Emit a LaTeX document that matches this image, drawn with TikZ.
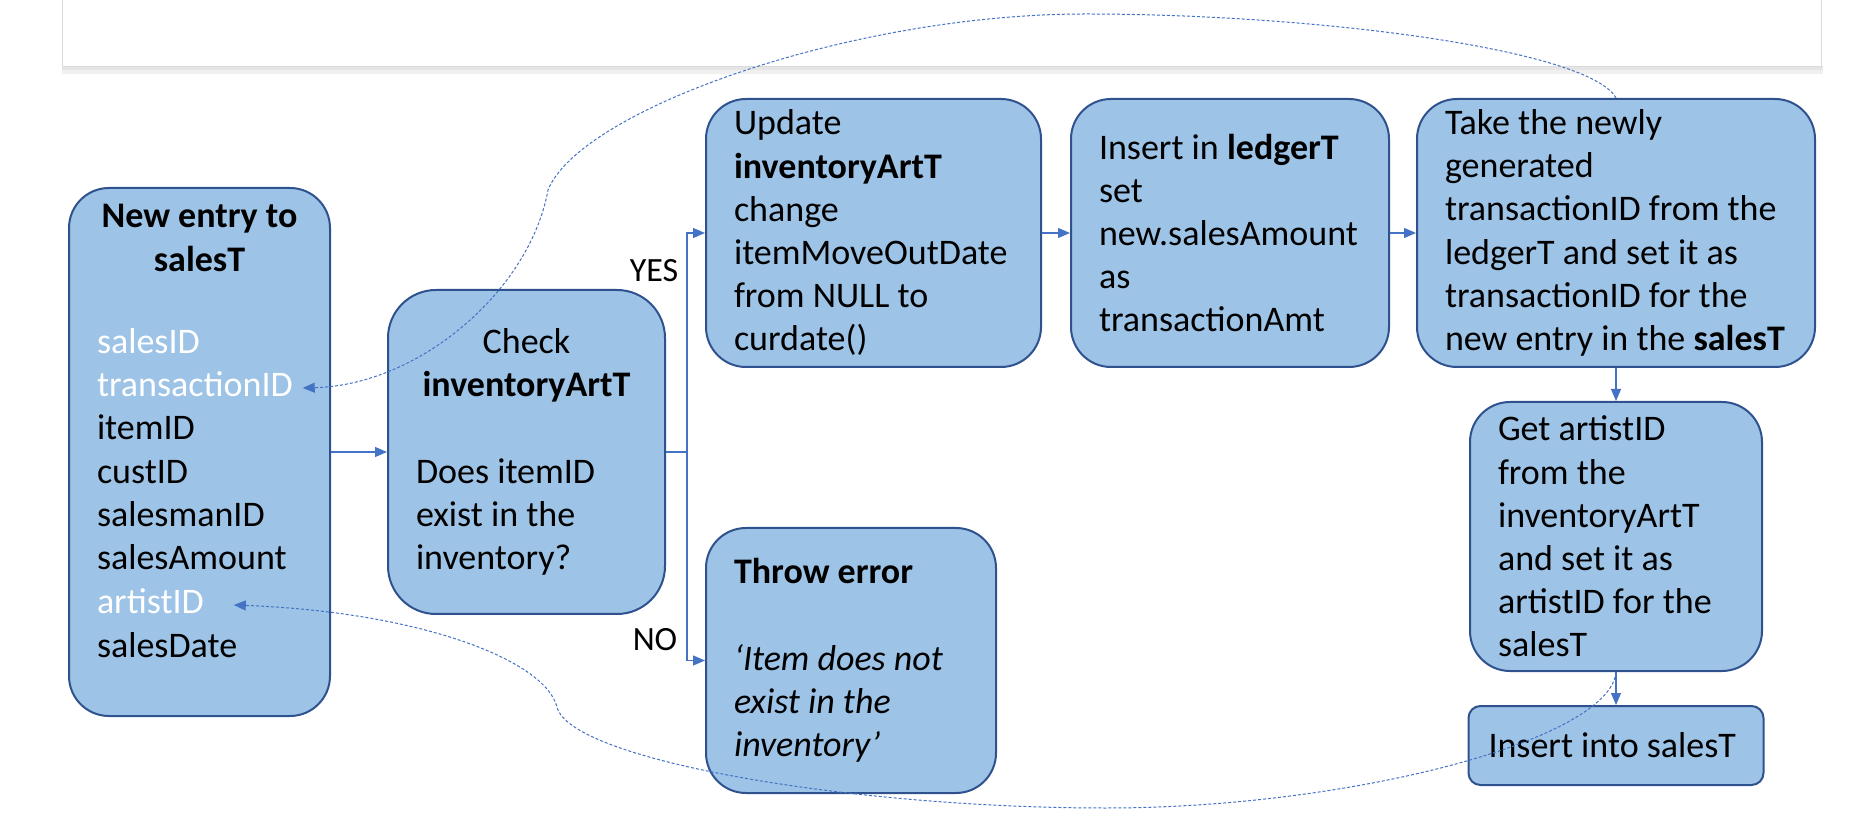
\documentclass[tikz,border=0pt]{standalone}
\usepackage{fontspec}
\setmainfont{Carlito}
\usetikzlibrary{arrows.meta}
\definecolor{boxfill}{HTML}{9DC3E6}
\definecolor{boxline}{HTML}{2F528F}
\definecolor{linkblue}{HTML}{4472C4}
\newcommand{\midline}[1]{\makebox[\hsize]{#1}}
\begin{document}
\begin{tikzpicture}[x=0.5pt, y=-0.5pt,
    box/.style={draw=boxline, line width=1pt, fill=boxfill, rounded corners=20pt,
      align=flush left, inner xsep=14pt, inner ysep=0pt},
    field/.style={anchor=west, inner xsep=0pt, inner ysep=0pt, outer xsep=5pt, outer ysep=0pt,
      text height=13pt, text depth=4pt},
    flow/.style={draw=linkblue, line width=0.6pt, -{Triangle[length=6pt,width=5pt]}},
    lookup/.style={draw=linkblue, line width=0.5pt, dash pattern=on 1.5pt off 1pt,
      -{Triangle[length=6pt,width=5pt]}}]
      \tikzset{every node/.style={font=\fontsize{18}{21.6}\selectfont}}
      \useasboundingbox (0,0) rectangle (1870,839);
      \fill[black!6] (62,66) rectangle (1823,74);
      \fill[black!10] (62,66) rectangle (1823,70);
      \draw[black!14, fill=white] (62,-2) rectangle (1821,66);
      \node[box, minimum width=130.5pt, minimum height=264pt] (newentry) at (199.5,452) {};
      \node[font=\fontsize{18}{21.6}\selectfont\bfseries, align=center] (title) at (199.5,238) {New entry to\\ salesT};
      \node[field, white] (salesID) at (87,345) {salesID};
      \node[field, white] (transactionID) at (87,388) {transactionID};
      \node[field] (itemID) at (87,431) {itemID};
      \node[field] (custID) at (87,475) {custID};
      \node[field] (salesmanID) at (87,518) {salesmanID};
      \node[field] (salesAmount) at (87,561) {salesAmount};
      \node[field, white] (artistID) at (87,605) {artistID};
      \node[field] (salesDate) at (87,648) {salesDate};
      \node[box, rounded corners=24pt, minimum width=138.5pt, minimum height=162pt, text width=110.5pt] (check) at (526.5,452)
        {\midline{Check}\\ \midline{\textbf{inventoryArtT}}\\[21.6pt] Does itemID\\ exist in the\\ inventory?};
      \node[box, minimum width=167.5pt, minimum height=134pt, text width=139.5pt] (update) at (873.5,233)
        {Update\\ \textbf{inventoryArtT}\\ change\\ itemMoveOutDate\\ from NULL to\\ curdate()};
      \node[box, minimum width=159pt, minimum height=134pt, text width=131pt] (ledger) at (1230,233)
        {Insert in \textbf{ledgerT}\\ set\\ new.salesAmount\\ as\\ transactionAmt};
      \node[box, minimum width=199pt, minimum height=134pt, text width=171pt] (take) at (1616,233)
        {Take the newly\\ generated\\ transactionID from the\\ ledgerT and set it as\\ transactionID for the\\ new entry in the \textbf{salesT}};
      \node[box, minimum width=146pt, minimum height=134.5pt, text width=118pt] (getartist) at (1616,536.5)
        {Get artistID\\ from the\\ inventoryArtT\\ and set it as\\ artistID for the\\ salesT};
      \node[box, rounded corners=6pt, inner xsep=10pt, minimum width=147.5pt, minimum height=39.5pt, text width=127.5pt] (insertsales) at (1616,745.5)
        {Insert into salesT};
      \node[box, minimum width=145pt, minimum height=132.5pt, text width=117pt] (throwerr) at (851,660.5)
        {\textbf{Throw error}\\[21.6pt] \textit{`Item does not}\\ \textit{exist in the}\\ \textit{inventory'}};
      \node[font=\fontsize{17}{20}\selectfont] (yes) at (654,271) {YES};
      \node[font=\fontsize{17}{20}\selectfont] (no) at (655,640) {NO};
      \draw[flow] (newentry) -- (check);
      \draw[flow] (check.east) -- ++(21,0) coordinate (split) |- (update.west);
      \draw[flow] (split) |- (throwerr.west);
      \draw[flow] (update) -- (ledger);
      \draw[flow] (ledger) -- (take);
      \draw[flow] (take) -- (getartist);
      \draw[flow] (getartist) -- (insertsales);
      \draw[lookup] (take.north) .. controls (1590,50) and (1320,14) .. (1085,14)
        .. controls (850,14) and (580,110) .. (548,190)
        .. controls (530,290) and (420,385) .. (transactionID.east);
      \draw[lookup] (getartist.south) .. controls (1610,740) and (1350,808) .. (1106,808)
        .. controls (850,808) and (570,760) .. (557,707)
        .. controls (545,660) and (420,612) .. ([xshift=10pt]artistID.east);
\end{tikzpicture}
\end{document}
